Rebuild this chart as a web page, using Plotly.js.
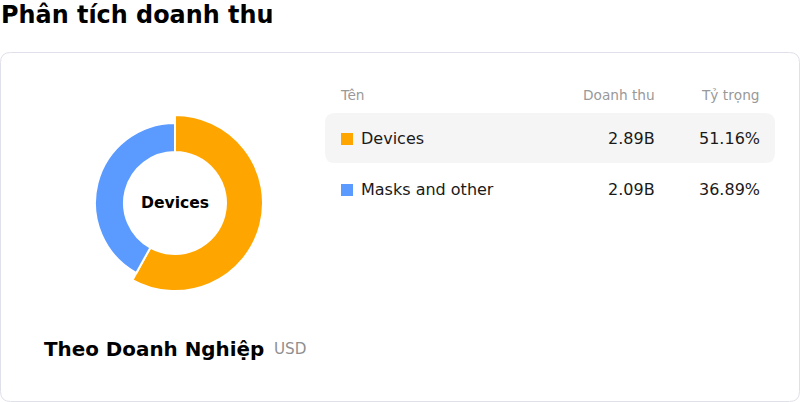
<!DOCTYPE html>
<html>
<head>
<meta charset="utf-8">
<script src="https://cdn.plot.ly/plotly-3.0.1.min.js"></script>
<style>
  html, body { margin: 0; padding: 0; background: #fff; }
  #chart { width: 800px; height: 402px; }
</style>
</head>
<body>
<div id="chart"></div>
<script>
/* ============================================================================
 * Datos
 * ========================================================================== */

const tieuDe = "Phân tích doanh thu";
const nhom = ["Devices", "Masks and other"];
const doanhThu = [2.89, 2.09];          // tỷ USD
const nhanDoanhThu = ["2.89B", "2.09B"];
const tyTrong = ["51.16%", "36.89%"];
const mau = ["#FFA500", "#5B9BFF"];
const cotBang = ["Tên", "Doanh thu", "Tỷ trọng"];
const phuDe = "Theo Doanh Nghiệp";
const donVi = "USD";
const nhomChon = 0;                     // lát đang được làm nổi bật

/* ============================================================================
 * Hình học (pixel)
 * ========================================================================== */

const W = 800, H = 402;
const CX = 175, CY = 203;
const R_NOI = 51, R_THUONG = 80, R_CHON = 88;
const FONT = "DejaVu Sans, Verdana, sans-serif";

function miền(r) {
    return {
        x: [(CX - r) / W, (CX + r) / W],
        y: [1 - (CY + r) / H, 1 - (CY - r) / H]
    };
}

function hinhBoGoc(x0, y0, x1, y1, r) {
    return "M" + (x0 + r) + "," + y0 +
        " L" + (x1 - r) + "," + y0 + " Q" + x1 + "," + y0 + " " + x1 + "," + (y0 + r) +
        " L" + x1 + "," + (y1 - r) + " Q" + x1 + "," + y1 + " " + (x1 - r) + "," + y1 +
        " L" + (x0 + r) + "," + y1 + " Q" + x0 + "," + y1 + " " + x0 + "," + (y1 - r) +
        " L" + x0 + "," + (y0 + r) + " Q" + x0 + "," + y0 + " " + (x0 + r) + "," + y0 + " Z";
}

/* ============================================================================
 * Vòng tròn (hai lớp: lát chọn lớn hơn)
 * ========================================================================== */

function lopVong(r, chon) {
    return {
        type: "pie",
        labels: nhom,
        values: doanhThu,
        sort: false,
        direction: "clockwise",
        rotation: 0,
        hole: R_NOI / r,
        domain: miền(r),
        textinfo: "none",
        hoverinfo: "skip",
        showlegend: false,
        marker: {
            colors: mau.map((c, i) => (i === nhomChon) === chon ? c : "rgba(0,0,0,0)"),
            line: {
                color: mau.map((c, i) => (i === nhomChon) === chon ? "#ffffff" : "rgba(0,0,0,0)"),
                width: 2
            }
        }
    };
}

const traces = [lopVong(R_CHON, true), lopVong(R_THUONG, false)];

/* ============================================================================
 * Bảng
 * ========================================================================== */

const X_TEN = 341, X_DT = 654, X_TT = 759;
const Y_DAU = 95, Y_HANG = [138, 189];

const annotations = [];
const shapes = [];

// Plotly đệm chữ khoảng 3px, bù lại bằng xshift
function chu(text, x, y, opt) {
    const a = Object.assign({
        text: text, x: x, y: y, xref: "x", yref: "y",
        showarrow: false, xanchor: "left", yanchor: "middle",
        font: { family: FONT, size: 16, color: "#1a1a1a" }
    }, opt);
    if (a.xanchor === "left") a.xshift = (a.xshift || 0) - 3;
    if (a.xanchor === "right") a.xshift = (a.xshift || 0) + 3;
    annotations.push(a);
}

// Thẻ
shapes.push({
    type: "path", xref: "x", yref: "y",
    path: hinhBoGoc(0.5, 52.5, 799.5, 401.5, 10),
    line: { color: "#e0e0ea", width: 1 }, fillcolor: "#ffffff", layer: "below"
});

// Hàng đang chọn
shapes.push({
    type: "path", xref: "x", yref: "y",
    path: hinhBoGoc(325, 113, 775, 163, 10),
    line: { width: 0 }, fillcolor: "#f5f5f5", layer: "below"
});

// Tiêu đề cột
const dauCot = { family: FONT, size: 13.7, color: "#999999" };
chu(cotBang[0], X_TEN, Y_DAU, { font: dauCot });
chu(cotBang[1], X_DT, Y_DAU, { font: dauCot, xanchor: "right" });
chu(cotBang[2], X_TT, Y_DAU, { font: dauCot, xanchor: "right" });

nhom.forEach((ten, i) => {
    const y = Y_HANG[i];
    shapes.push({
        type: "rect", xref: "x", yref: "y",
        x0: X_TEN, x1: X_TEN + 12, y0: y - 5, y1: y + 7,
        line: { width: 0 }, fillcolor: mau[i]
    });
    chu(ten, X_TEN + 20.5, y);
    chu(nhanDoanhThu[i], X_DT, y, { xanchor: "right" });
    chu(tyTrong[i], X_TT, y, { xanchor: "right" });
});

// Tiêu đề trang
chu(tieuDe, 1, 15, { xshift: 1, font: { family: FONT, size: 23.9, color: "#000000", weight: "bold" } });

// Nhãn trung tâm
chu(nhom[nhomChon], CX, CY, {
    xanchor: "center",
    font: { family: FONT, size: 15.6, color: "#000000", weight: "bold" }
});

// Chân thẻ
chu(phuDe, 44.5, 349, { font: { family: FONT, size: 19.9, color: "#000000", weight: "bold" } });
chu(donVi, 274.5, 349, { font: { family: FONT, size: 15.2, color: "#8f8f8f" } });

/* ============================================================================
 * Bố cục
 * ========================================================================== */

const layout = {
    width: W,
    height: H,
    margin: { l: 0, r: 0, t: 0, b: 0 },
    paper_bgcolor: "#ffffff",
    plot_bgcolor: "rgba(0,0,0,0)",
    xaxis: { range: [0, W], visible: false, fixedrange: true },
    yaxis: { range: [H, 0], visible: false, fixedrange: true },
    shapes: shapes,
    annotations: annotations,
    showlegend: false
};

Plotly.newPlot("chart", traces, layout, { staticPlot: true });
</script>
</body>
</html>
